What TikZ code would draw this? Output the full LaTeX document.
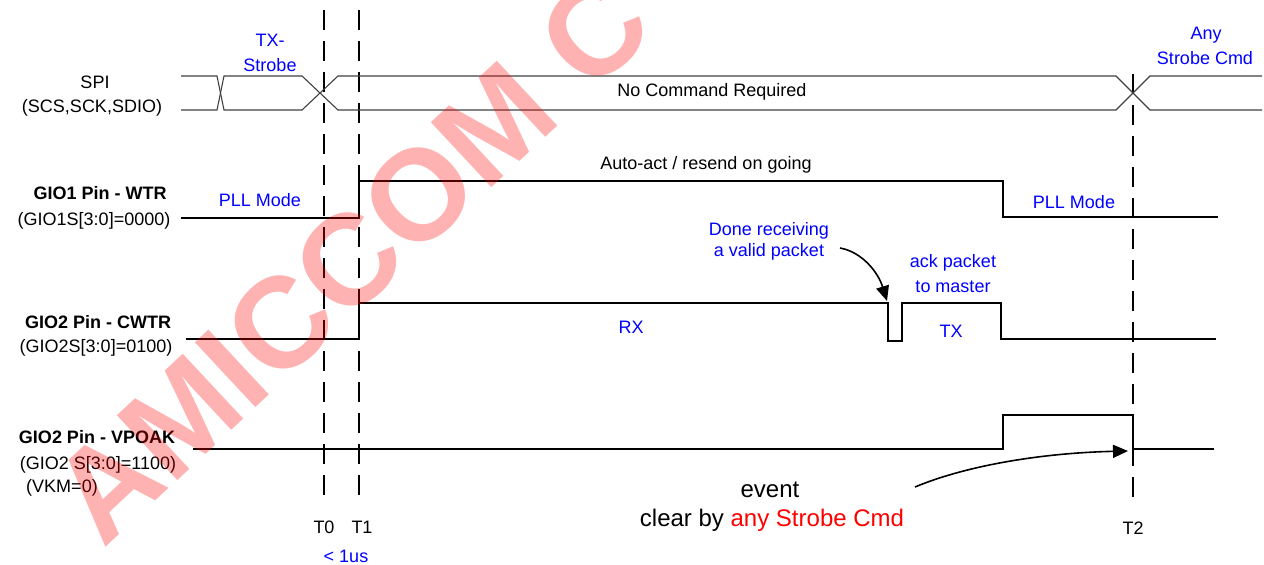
\documentclass[tikz,border=0pt]{standalone}
\usepackage{fontspec}
\setmainfont{Liberation Sans}
\usetikzlibrary{arrows.meta}

\begin{document}
\begin{tikzpicture}[x=1pt, y=-1pt, >={Triangle[length=15pt,width=13pt]}]
	% --- Parametri temporali ---
	\def\tZero{324}
	\def\tOne{359}
	\def\tTwo{1133}
	\def\tEnd{1003}
	\def\spiHi{76}
	\def\spiLo{110}
	
	% --- Stili ---
	\tikzset{
		sig/.style={draw=black, line width=2.2pt},
		bus/.style={draw=black!75, line width=1.1pt},
		marker/.style={draw=black, line width=2.8pt, dash pattern=on 20pt off 11pt},
		txt/.style={inner sep=0pt, font=\fontsize{18}{21}\selectfont},
		pin/.style={inner sep=0pt, font=\fontsize{18}{21}\selectfont\bfseries},
		note/.style={txt, text=blue},
		big_txt/.style={inner sep=0pt, font=\fontsize{24}{28}\selectfont},
		callout/.style={->, line width=1.6pt}
	}
	
	\useasboundingbox (0,0) rectangle (1264,565);
	
	% --- Linee di riferimento ---
	\draw[marker] (\tZero,10) -- (\tZero,502);
	\draw[marker] (\tOne,10) -- (\tOne,502);
	\draw[marker] (\tTwo,74) -- (\tTwo,508);
	\node[txt] (t0) at (\tZero,527) {T0};
	\node[txt] (t1) at (\tOne+3,527) {T1};
	\node[txt] (t2) at (\tTwo,528) {T2};
	\node[note] (delay) at (346,556) {< 1us};
	
	% --- SPI ---
	\draw[bus] (181,\spiHi) -- (217,\spiHi) -- (224,\spiLo) -- (302,\spiLo) -- (338,\spiHi)
		-- (1116,\spiHi) -- (1150,\spiLo) -- (1262,\spiLo);
	\draw[bus] (181,\spiLo) -- (217,\spiLo) -- (224,\spiHi) -- (302,\spiHi) -- (338,\spiLo)
		-- (1116,\spiLo) -- (1150,\spiHi) -- (1262,\spiHi);
	\node[txt] (spi) at (95,82) {SPI};
	\node[txt] (spi_pins) at (92,108) {(SCS,SCK,SDIO)};
	\node[note] (txs_a) at (270,40) {TX-};
	\node[note] (txs_b) at (270,65) {Strobe};
	\node[txt] (nocmd) at (712,92) {No Command Required};
	\node[note] (any_a) at (1206,35) {Any};
	\node[note] (any_b) at (1205,58) {Strobe Cmd};
	
	% --- GIO1 (WTR) ---
	\draw[sig] (181,218) -- (\tOne,218) -- (\tOne,181) -- (\tEnd,181) -- (\tEnd,217) -- (1218,217);
	\node[pin] (gio1) at (100,193) {GIO1 Pin - WTR};
	\node[txt] (gio1_cfg) at (94,221) {(GIO1S[3:0]=0000)};
	\node[note] (pll_a) at (260,200) {PLL Mode};
	\node[txt] (auto) at (706,165) {Auto-act / resend on going};
	\node[note] (pll_b) at (1074,202) {PLL Mode};
	
	% --- GIO2 (CWTR) ---
	\draw[sig] (186,339) -- (\tOne,339) -- (\tOne,303) -- (888,303) -- (888,341) -- (902,341)
		-- (902,303) -- (1001,303) -- (1001,339) -- (1216,339);
	\node[pin] (gio2) at (98,322) {GIO2 Pin - CWTR};
	\node[txt] (gio2_cfg) at (96,348) {(GIO2S[3:0]=0100)};
	\node[note] (rx) at (631,327) {RX};
	\node[note] (tx) at (951,331) {TX};
	\node[note] (ack_a) at (953,263) {ack packet};
	\node[note] (ack_b) at (953,287) {to master};
	\node[note] (done_a) at (769,231) {Done receiving};
	\node[note] (done_b) at (769,252) {a valid packet};
	\coordinate (done_from) at (840,248);
	\coordinate (dip) at (887,301);
	\draw[callout] (done_from) .. controls (862,252) and (878,272) .. (dip);
	
	% --- GIO2 (VPOAK) ---
	\draw[sig] (193,449) -- (\tEnd,449) -- (\tEnd,415) -- (\tTwo,415) -- (\tTwo,449) -- (1214,449);
	\node[pin] (vpoak) at (97,437) {GIO2 Pin - VPOAK};
	\node[txt] (vpoak_cfg) at (98,465) {(GIO2 S[3:0]=1100)};
	\node[txt] (vkm) at (62,488) {(VKM=0)};
	\node[big_txt] (event) at (770,490) {event};
	\node[big_txt] (clear) at (772,520) {clear by \textcolor{red}{any Strobe Cmd}};
	\coordinate (event_from) at (915,487);
	\coordinate (clr) at (1128,451);
	\draw[callout] (event_from) .. controls (965,466) and (1040,453) .. (clr);
	
	% --- Filigrana ---
	\node[inner sep=0pt, anchor=base west, rotate=43, text=red, text opacity=0.3,
		font=\fontsize{129}{129}\selectfont\bfseries] (wmark) at (103,550) {AMICCOM C};
\end{tikzpicture}
\end{document}
